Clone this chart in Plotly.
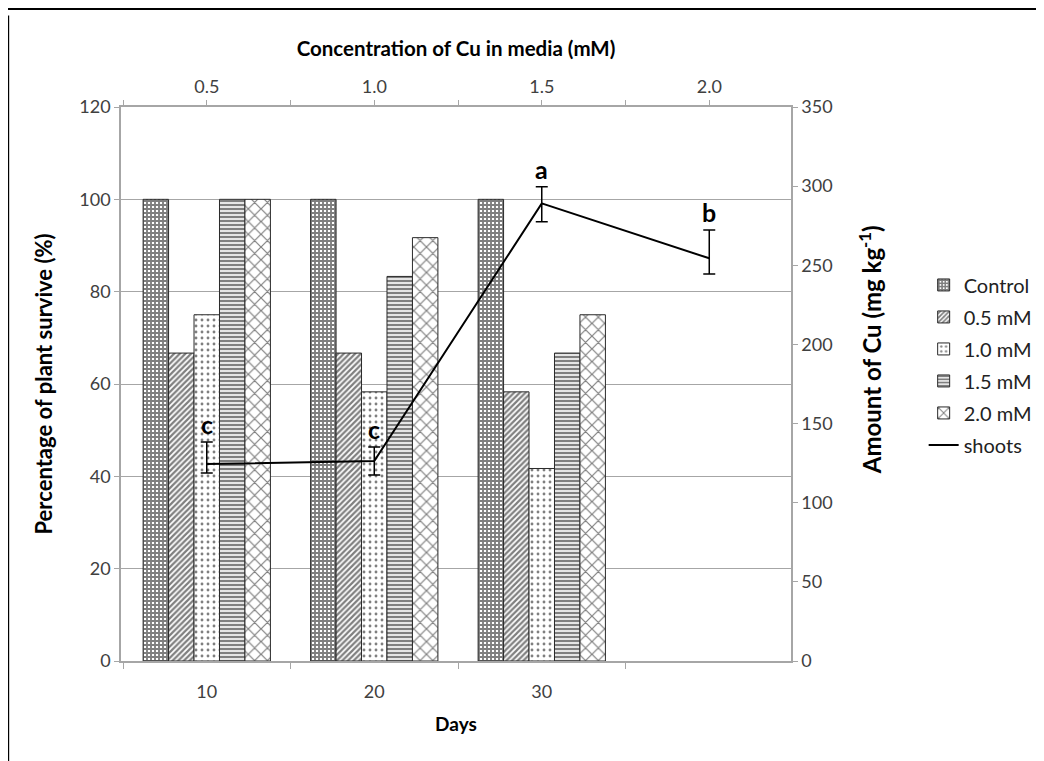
import plotly.graph_objects as go

days = [10, 20, 30]
series_names = ["Control", "0.5 mM", "1.0 mM", "1.5 mM", "2.0 mM"]
survival = {
    "Control": [100, 100, 100],
    "0.5 mM": [66.7, 66.7, 58.3],
    "1.0 mM": [75.0, 58.3, 41.7],
    "1.5 mM": [100, 83.3, 66.7],
    "2.0 mM": [100, 91.7, 75.0],
}
patterns = {"Control": "+", "0.5 mM": "/", "1.0 mM": ".", "1.5 mM": "-", "2.0 mM": "x"}
pattern_size = {"Control": 4, "0.5 mM": 4, "1.0 mM": 6, "1.5 mM": 4, "2.0 mM": 9}
pattern_sol = {"Control": 0.72, "0.5 mM": 0.55, "1.0 mM": 0.18, "1.5 mM": 0.6, "2.0 mM": 0.25}

conc = [0.5, 1.0, 1.5, 2.0]
shoots = [124.4, 126.3, 289.1, 254.4]
shoots_err_plus = [13.9, 8.9, 10.5, 17.9]
shoots_err_minus = [5.6, 8.8, 11.6, 9.9]
letters = ["c", "c", "a", "b"]

FONT = "Lato"
TICKC = "#404040"
GRID = "#a6a6a6"

fig = go.Figure()
for name in series_names:
    fig.add_trace(go.Bar(
        x=days, y=survival[name], name=name, legendgroup=name,
        marker=dict(color="white", line=dict(color="#2a2a2a", width=1),
                    pattern=dict(shape=patterns[name], fgcolor="black", bgcolor="white",
                                 size=pattern_size[name], solidity=pattern_sol[name])),
        xaxis="x", yaxis="y",
    ))

fig.add_trace(go.Scatter(
    x=conc, y=shoots, name="shoots", legendgroup="shoots", mode="lines",
    line=dict(color="black", width=2),
    error_y=dict(type="data", symmetric=False, array=shoots_err_plus,
                 arrayminus=shoots_err_minus, color="black", thickness=1.5, width=6),
    xaxis="x2", yaxis="y2",
))

for xv, yv, ep, lt in zip(conc, shoots, shoots_err_plus, letters):
    fig.add_annotation(x=xv, y=yv + ep, xref="x2", yref="y2", text="<b>%s</b>" % lt,
                       showarrow=False, yanchor="bottom", yshift=1,
                       font=dict(family=FONT, size=25, color="black"))

# right-hand axis title (placed like the reference, a little above the axis centre)
fig.add_annotation(x=1.118, y=0.561, xref="paper", yref="paper", textangle=-90,
                   text="<b>Amount of Cu (mg kg<sup>-1</sup>)</b>", showarrow=False,
                   xanchor="center", yanchor="middle",
                   font=dict(family=FONT, size=24, color="black"))

# the page adds an 8px body margin; margins compensate so the plot area lands
# at the same pixels as the reference
fig.update_layout(
    width=1044, height=761,
    margin=dict(l=113, r=261, t=99, b=108),
    paper_bgcolor="white", plot_bgcolor="white",
    font=dict(family=FONT, size=18, color=TICKC),
    barmode="group", bargap=0.24, bargroupgap=0,
    showlegend=True,
    legend=dict(x=1.198, y=0.714, xanchor="left", yanchor="top",
                font=dict(family=FONT, size=20, color="#222222"),
                tracegroupgap=3, bgcolor="rgba(0,0,0,0)"),
    xaxis=dict(range=[4.88, 44.88], tickvals=days, ticktext=[str(d) for d in days],
               ticks="", showgrid=False, showline=True, linecolor=GRID, linewidth=1.5,
               zeroline=False, ticklabelstandoff=14,
               minor=dict(tick0=5, dtick=10, ticks="outside", ticklen=6, tickcolor=GRID, showgrid=False),
               title=dict(text="<b>Days</b>", font=dict(family=FONT, size=19, color="black"), standoff=16),
               tickfont=dict(family=FONT, size=18, color=TICKC)),
    xaxis2=dict(range=[0.244, 2.244], tickvals=conc, tickformat=".1f", overlaying="x", side="top",
                anchor="y", ticks="outside", ticklen=5, tickcolor=GRID,
                showgrid=False, showline=True, linecolor=GRID, linewidth=1.5, zeroline=False,
                minor=dict(tick0=0.25, dtick=0.5, ticks="outside", ticklen=5, tickcolor=GRID, showgrid=False),
                title=dict(text="<b>Concentration of Cu in media (mM)</b>",
                           font=dict(family=FONT, size=20.5, color="black"), standoff=13),
                tickfont=dict(family=FONT, size=18, color=TICKC)),
    yaxis=dict(range=[0, 120], dtick=20, ticks="outside", ticklen=5, tickcolor=GRID,
               showgrid=True, gridcolor=GRID, gridwidth=1.2, showline=True, linecolor=GRID,
               linewidth=1.5, zeroline=False,
               title=dict(text="<b>Percentage of plant survive (%)</b>",
                          font=dict(family=FONT, size=22, color="black"), standoff=21),
               tickfont=dict(family=FONT, size=18, color=TICKC)),
    yaxis2=dict(range=[0, 350], dtick=50, overlaying="y", side="right", anchor="x",
                ticks="outside", ticklen=5, tickcolor=GRID, showgrid=False,
                showline=True, linecolor=GRID, linewidth=1.5, zeroline=False,
                tickfont=dict(family=FONT, size=18, color=TICKC)),
)

# chart frame (cropped border of the original figure)
fig.add_shape(type="line", xref="paper", yref="paper", x0=-0.2, x1=1.4, y0=1.177, y1=1.177,
              line=dict(color="black", width=2))
fig.add_shape(type="line", xref="paper", yref="paper", x0=-0.168, x1=-0.168, y0=1.165, y1=-0.2,
              line=dict(color="black", width=1.5))

fig.write_html("out.html")
